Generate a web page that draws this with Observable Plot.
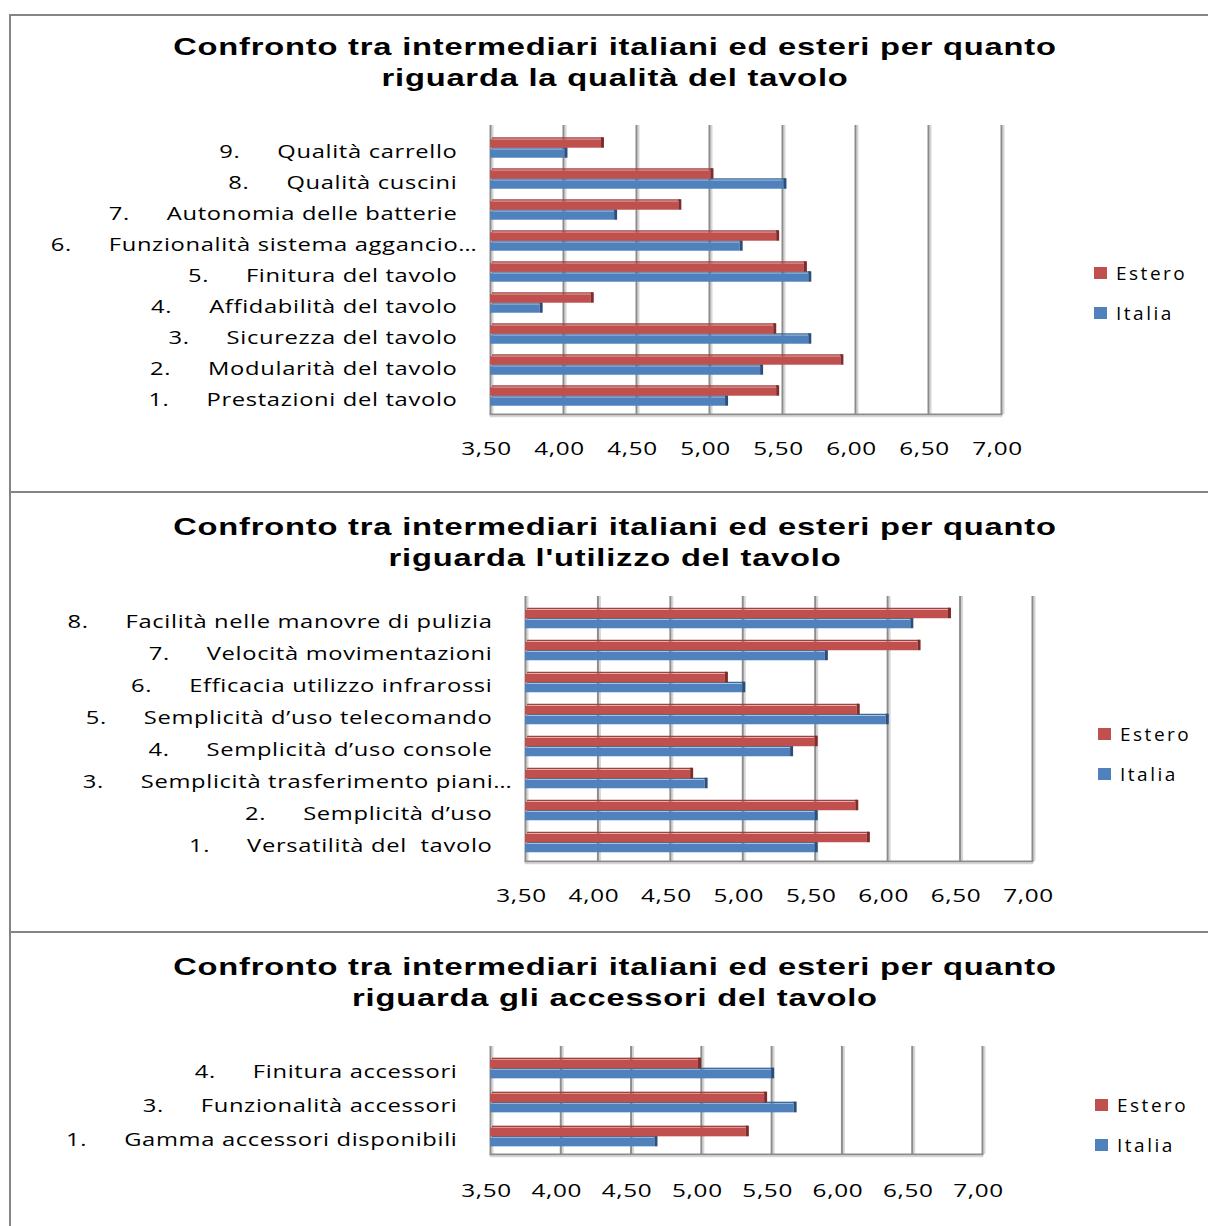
<!DOCTYPE html>
<html>
<head>
<meta charset="utf-8">
<script src="https://cdn.jsdelivr.net/npm/d3@7"></script>
<script src="https://cdn.jsdelivr.net/npm/@observablehq/plot@0.6"></script>
<style>
  html, body { margin: 0; padding: 0; background: #fff; }
  #page { position: relative; width: 1208px; height: 1226px; overflow: hidden; font-family: "Open Sans", sans-serif; }
  .vline { position: absolute; left: 9px; top: 14px; width: 2px; height: 1212px; background: #858585; }
  .hline { position: absolute; left: 9px; right: 0; height: 2px; background: #858585; }
  .panel { position: absolute; left: 0; width: 1208px; }
  .panel svg { position: absolute; left: 0; top: 0; }
  .title { position: absolute; left: 0; width: 1230px; text-align: center; font-family: "Liberation Sans", Arial, sans-serif;
           font-weight: bold; font-size: 24px; letter-spacing: 0.6px; line-height: 31px; color: #000; z-index: 2;
           transform: scaleX(1.36); transform-origin: 615px 0; }
  .legend { position: absolute; z-index: 2; font-family: "Open Sans", sans-serif; font-size: 19px; letter-spacing: 2.5px; color: #000; }
  .legend .item { position: absolute; left: 0; white-space: nowrap; line-height: 24px; height: 24px; display: flex; align-items: center; }
  .legend .sw { display: inline-block; width: 13px; height: 12px; margin-right: 9px; }
</style>
</head>
<body>
<div id="page">
  <div class="vline"></div>
  <div class="hline" style="top:14px"></div>
  <div class="hline" style="top:491px"></div>
  <div class="hline" style="top:931px"></div>
</div>
<script>
// Valutazioni medie (scala 1–7) degli intermediari, per nazionalità
const serie = ["Estero", "Italia"];
const coloriFaccia = ["#C0504D", "#4F81BD"];
const coloriBordo = ["#A4403D", "#3C6A9E"];
const coloriPunta = ["#7E2B29", "#2B4E7C"];

const assexTicks = [3.5, 4, 4.5, 5, 5.5, 6, 6.5, 7];

// Qualità del tavolo
const qualitaNum = [1, 2, 3, 4, 5, 6, 7, 8, 9];
const qualitaVoci = [
  "Prestazioni del tavolo",
  "Modularità del tavolo",
  "Sicurezza del tavolo",
  "Affidabilità del tavolo",
  "Finitura del tavolo",
  "Funzionalità sistema aggancio…",
  "Autonomia delle batterie",
  "Qualità cuscini",
  "Qualità carrello"
];
const qualitaEstero = [5.46, 5.90, 5.44, 4.19, 5.65, 5.46, 4.79, 5.01, 4.26];
const qualitaItalia = [5.11, 5.35, 5.68, 3.84, 5.68, 5.21, 4.35, 5.51, 4.01];

// Utilizzo del tavolo
const utilizzoNum = [1, 2, 3, 4, 5, 6, 7, 8];
const utilizzoVoci = [
  "Versatilità del\u00a0 tavolo",
  "Semplicità d’uso",
  "Semplicità trasferimento piani…",
  "Semplicità d’uso console",
  "Semplicità d’uso telecomando",
  "Efficacia utilizzo infrarossi",
  "Velocità movimentazioni",
  "Facilità nelle manovre di pulizia"
];
const utilizzoEstero = [5.86, 5.78, 4.64, 5.50, 5.79, 4.88, 6.21, 6.42];
const utilizzoItalia = [5.50, 5.50, 4.74, 5.33, 5.99, 5.00, 5.57, 6.16];

// Accessori del tavolo
const accessoriNum = [1, 3, 4];
const accessoriVoci = [
  "Gamma accessori disponibili",
  "Funzionalità accessori",
  "Finitura accessori"
];
const accessoriEstero = [5.32, 5.45, 4.98];
const accessoriItalia = [4.67, 5.66, 5.50];

const virgola = v => d3.format(".2f")(v).replace(".", ",");

// allarga orizzontalmente le etichette attorno al loro punto di ancoraggio;
// le voci troncate sporgono a destra come i puntini di sospensione
function allarga(svg, selettore, sx, sporgenza = 0) {
  svg.querySelectorAll(selettore).forEach(el => {
    const ax = el.getAttribute("x");
    const numerico = ax !== null && isFinite(+ax);
    const x = numerico ? +ax : 0;
    if (numerico) el.removeAttribute("x");
    const extra = el.textContent.endsWith("…") ? sporgenza : 0;
    const tr = el.getAttribute("transform") || "";
    el.setAttribute("transform", `${tr} translate(${x + extra},0) scale(${sx},1)`);
  });
}

function grafico(cfg) {
  const page = document.getElementById("page");
  const panel = document.createElement("div");
  panel.className = "panel";
  panel.style.top = cfg.top + "px";
  panel.style.height = cfg.height + "px";
  page.appendChild(panel);

  const righe = cfg.voci.map((v, i) => ({
    cat: `${cfg.num[i]}.\u2003\u2002${v}`,
    valori: [cfg.estero[i], cfg.italia[i]]
  }));
  const ordine = righe.map(d => d.cat).reverse();

  const pitch = (cfg.height - cfg.marginTop - cfg.marginBottom) / righe.length;
  const half = pitch / 2;
  const h = 9;

  // posizione verticale di ciascuna serie dentro la banda
  const insets = [
    {top: half - h - 0.5, bottom: half + 0.5},
    {top: half + 0.5, bottom: half - h - 0.5}
  ];

  const barre = [];
  // prima Italia (sotto), poi Estero (sopra) così la barra rossa copre il bordo superiore blu
  [1, 0].forEach(s => {
    const ins = insets[s];
    barre.push(
      Plot.barX(righe, {
        y: "cat", x1: 3.5, x2: d => d.valori[s], dx: 2,
        insetTop: ins.top - 2, insetBottom: ins.bottom + h,
        fill: coloriBordo[s]
      }),
      Plot.barX(righe, {
        y: "cat", x1: 3.5, x2: d => d.valori[s],
        insetTop: ins.top, insetBottom: ins.bottom,
        fill: coloriFaccia[s]
      }),
      Plot.barX(righe, {
        y: "cat", x1: d => d.valori[s], x2: d => d.valori[s],
        insetRight: -3, insetTop: ins.top - 2, insetBottom: ins.bottom,
        fill: coloriPunta[s]
      })
    );
  });

  const svg = Plot.plot({
    width: 1208,
    height: cfg.height,
    marginLeft: cfg.marginLeft,
    marginRight: cfg.marginRight,
    marginTop: cfg.marginTop,
    marginBottom: cfg.marginBottom,
    style: {fontFamily: "'Open Sans', sans-serif", fontSize: "18px", letterSpacing: "0.5px", color: "#000", background: "transparent"},
    x: {domain: [3.5, 7]},
    y: {domain: ordine, padding: 0},
    marks: [
      Plot.ruleX(assexTicks, {stroke: "#d6d6d6", strokeWidth: 2, dx: 2, insetTop: -5}),
      Plot.ruleX(assexTicks, {stroke: "#8c8c8c", strokeWidth: 2, insetTop: -5}),
      Plot.frame({anchor: "bottom", stroke: "#8c8c8c", strokeWidth: 2}),
      Plot.frame({anchor: "bottom", stroke: "#d6d6d6", strokeWidth: 1.5, dy: 2}),
      ...barre,
      Plot.axisX({ticks: assexTicks, tickFormat: virgola, tickSize: 0, tickPadding: cfg.xPad, dx: -4, label: null}),
      Plot.axisY({tickSize: 0, tickPadding: 33, dy: 3, label: null, textAnchor: "end"})
    ]
  });
  allarga(svg, 'g[aria-label="y-axis tick label"] text', 1.32, 20);
  allarga(svg, 'g[aria-label="x-axis tick label"] text', 1.35);
  panel.appendChild(svg);

  const t = document.createElement("div");
  t.className = "title";
  t.style.top = cfg.titleTop + "px";
  t.innerHTML = cfg.titolo.join("<br>");
  panel.appendChild(t);

  const leg = document.createElement("div");
  leg.className = "legend";
  leg.style.left = cfg.legX + "px";
  leg.style.top = cfg.legY + "px";
  serie.forEach((nome, s) => {
    const it = document.createElement("div");
    it.className = "item";
    it.style.top = (s * 40 - 12) + "px";
    it.innerHTML = `<span class="sw" style="background:${coloriFaccia[s]}"></span>${nome}`;
    leg.appendChild(it);
  });
  panel.appendChild(leg);
}

grafico({
  top: 15, height: 477,
  marginLeft: 490, marginRight: 207, marginTop: 115, marginBottom: 78, xPad: 28,
  titolo: ["Confronto tra intermediari italiani ed esteri per quanto", "riguarda la qualità del tavolo"],
  titleTop: 16,
  legX: 1094, legY: 258,
  num: qualitaNum, voci: qualitaVoci, estero: qualitaEstero, italia: qualitaItalia
});

grafico({
  top: 492, height: 440,
  marginLeft: 525, marginRight: 176, marginTop: 109, marginBottom: 71, xPad: 28,
  titolo: ["Confronto tra intermediari italiani ed esteri per quanto", "riguarda l'utilizzo del tavolo"],
  titleTop: 19,
  legX: 1098, legY: 242,
  num: utilizzoNum, voci: utilizzoVoci, estero: utilizzoEstero, italia: utilizzoItalia
});

grafico({
  top: 932, height: 294,
  marginLeft: 490, marginRight: 226, marginTop: 119, marginBottom: 72, xPad: 30,
  titolo: ["Confronto tra intermediari italiani ed esteri per quanto", "riguarda gli accessori del tavolo"],
  titleTop: 19,
  legX: 1095, legY: 173,
  num: accessoriNum, voci: accessoriVoci, estero: accessoriEstero, italia: accessoriItalia
});
</script>
</body>
</html>
